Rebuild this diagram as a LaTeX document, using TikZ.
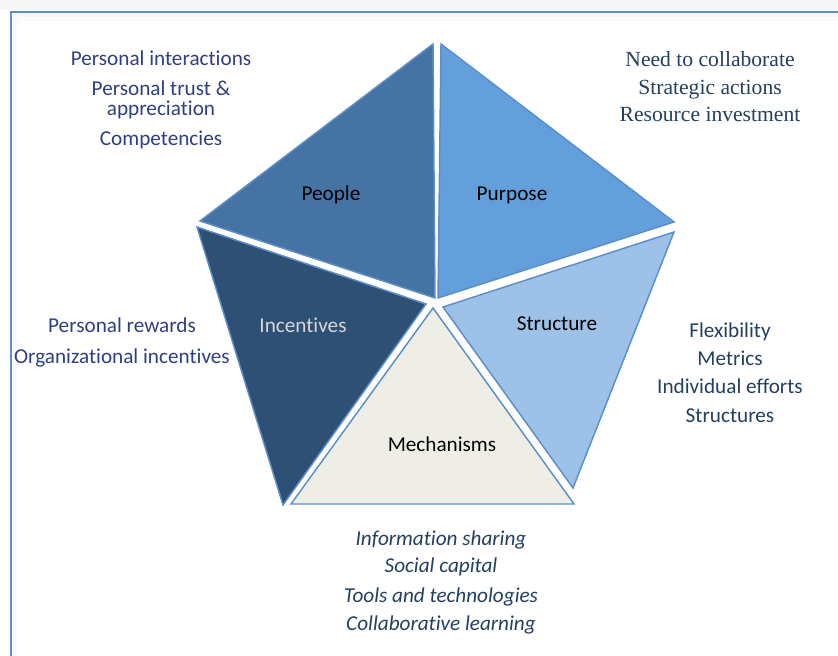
\documentclass[tikz,border=0pt]{standalone}
\usepackage{fontspec}
\setmainfont{Carlito}[RawFeature={-liga}]
\newfontfamily\serifcam{Liberation Serif}
\definecolor{edge}{HTML}{5B8FCB}
\definecolor{cPeople}{HTML}{4573A4}
\definecolor{cPurpose}{HTML}{629FDB}
\definecolor{cStructure}{HTML}{9DC1E7}
\definecolor{cMech}{HTML}{EEEEE7}
\definecolor{cIncent}{HTML}{2F5075}
\definecolor{navy}{HTML}{2F3F84}
\definecolor{slate}{HTML}{243F60}
\definecolor{lightlbl}{HTML}{D6D6D6}
\tikzset{
  piece/.style={draw=edge, line width=1.1pt, line join=miter},
  lbl/.style={anchor=base, inner sep=0pt, font=\fontsize{15.9}{18}\selectfont, text=black},
  lista/.style={anchor=base, inner sep=0pt, font=\fontsize{15.9}{18}\selectfont, text=navy},
  listb/.style={anchor=base, inner sep=0pt, font=\serifcam\fontsize{16.2}{18}\selectfont, text=slate},
  listc/.style={anchor=base, inner sep=0pt, font=\fontsize{15.9}{18}\selectfont, text=slate},
  listd/.style={anchor=base, inner sep=0pt, font=\itshape\fontsize{15.9}{18}\selectfont, text=slate},
}
\begin{document}
\begin{tikzpicture}[x=0.75pt,y=-0.75pt]
\useasboundingbox (0,0) rectangle (838,656);
% frame with faint shadow
\fill[gray!6] (0,0) rectangle (838,10);
\draw[gray!7, line width=2.5pt] (15,656) -- (15,16) -- (838,16);
\draw[gray!3, line width=2.5pt] (18,656) -- (18,19) -- (838,19);
\draw[edge, line width=1.5pt] (11,656) -- (11,12) -- (838,12);
% pieces
\coordinate (pA) at (433,44);  \coordinate (pB) at (200,221); \coordinate (pC) at (435,298);
\coordinate (uA) at (441,44);  \coordinate (uB) at (674,222); \coordinate (uC) at (438,298);
\coordinate (sA) at (443,307); \coordinate (sB) at (674,232); \coordinate (sC) at (573,488);
\coordinate (mA) at (433,308); \coordinate (mB) at (291,504); \coordinate (mC) at (574,504);
\coordinate (iA) at (197,227); \coordinate (iB) at (426,304); \coordinate (iC) at (283,505);
\filldraw[piece, fill=cPeople] (pA) -- (pB) -- (pC) -- cycle;
\filldraw[piece, fill=cPurpose] (uA) -- (uB) -- (uC) -- cycle;
\filldraw[piece, fill=cStructure] (sA) -- (sB) -- (sC) -- cycle;
\filldraw[piece, fill=cMech] (mA) -- (mB) -- (mC) -- cycle;
\filldraw[piece, fill=cIncent] (iA) -- (iB) -- (iC) -- cycle;
% labels
\node[lbl] (lPeople) at (331,200) {People};
\node[lbl] (lPurpose) at (512,200) {Purpose};
\node[lbl, text=lightlbl] (lIncent) at (303,332) {Incentives};
\node[lbl] (lStruct) at (557,330) {Structure};
\node[lbl] (lMech) at (442,451) {Mechanisms};
% people list
\node[lista] (a1) at (161,66) {Personal interactions};
\node[lista] (a2) at (161,96) {Personal trust \&};
\node[lista] (a3) at (161,116) {appreciation};
\node[lista] (a4) at (161,146) {Competencies};
% purpose list
\node[listb] (b1) at (710,67) {Need to collaborate};
\node[listb] (b2) at (710,95) {Strategic actions};
\node[listb] (b3) at (710,122) {Resource investment};
% incentives list
\node[lista] (c1) at (122,332) {Personal rewards};
\node[lista] (c2) at (122,363) {Organizational incentives};
% structure list
\node[listc] (d1) at (730,337) {Flexibility};
\node[listc] (d2) at (730,365) {Metrics};
\node[listc] (d3) at (730,393) {Individual efforts};
\node[listc] (d4) at (730,422) {Structures};
% mechanisms list
\node[listd] (e1) at (441,545) {Information sharing};
\node[listd] (e2) at (441,572) {Social capital};
\node[listd] (e3) at (441,602) {Tools and technologies};
\node[listd] (e4) at (441,630) {Collaborative learning};
\end{tikzpicture}
\end{document}
